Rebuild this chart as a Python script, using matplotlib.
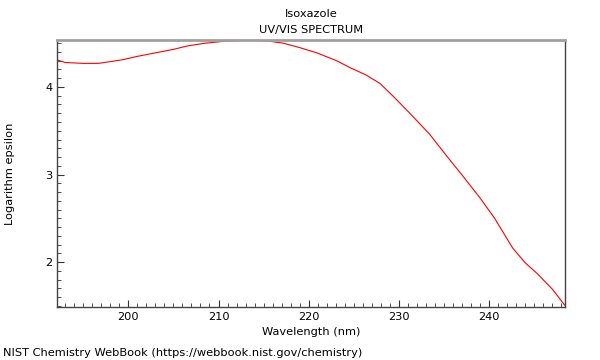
import matplotlib
matplotlib.use("Agg")
import matplotlib.pyplot as plt
from matplotlib.ticker import MultipleLocator

# spectrum
wavelength = [192.1, 193.0, 195.0, 196.7, 198.0, 199.3, 201.0, 203.0, 205.0, 206.6,
              208.5, 210.4, 212.5, 214.1, 215.5, 217.2, 219.0, 220.9, 223.1, 224.6,
              226.3, 227.9, 229.5, 231.2, 233.4, 235.3, 237.1, 239.0, 240.6,
              242.6, 244.0, 245.3, 247.0, 248.5]
log_eps = [4.31, 4.28, 4.27, 4.27, 4.29, 4.31, 4.35, 4.39, 4.43, 4.47,
           4.50, 4.52, 4.535, 4.535, 4.525, 4.50, 4.45, 4.39, 4.30, 4.22,
           4.14, 4.04, 3.88, 3.70, 3.46, 3.21, 2.98, 2.73, 2.50,
           2.16, 1.99, 1.87, 1.69, 1.49]

FS = 8.2

fig = plt.figure(figsize=(6, 3.6), dpi=100)
ax = fig.add_axes([57 / 600, 1 - 307 / 360, 508 / 600, 267 / 360])

ax.plot(wavelength, log_eps, color="red", linewidth=0.8)

ax.set_xlim(192.1, 248.4)
ax.set_ylim(1.486, 4.537)
ax.xaxis.set_major_locator(MultipleLocator(10))
ax.xaxis.set_minor_locator(MultipleLocator(1))
ax.yaxis.set_major_locator(MultipleLocator(1))
ax.yaxis.set_minor_locator(MultipleLocator(0.1))
ax.tick_params(which="both", direction="in", labelsize=FS, color="#333333")
ax.tick_params(which="major", length=5)
ax.tick_params(which="minor", length=3)

ax.spines["top"].set_color("#a0a0a0")
ax.spines["top"].set_linewidth(2)
for s in ["left", "bottom", "right"]:
    ax.spines[s].set_color("#444444")
    ax.spines[s].set_linewidth(1)

ax.set_xlabel("Wavelength (nm)", fontsize=FS, labelpad=4)
ax.set_ylabel("Logarithm epsilon", fontsize=FS)
ax.yaxis.set_label_coords(-0.082, 0.5)
ax.set_title("Isoxazole\nUV/VIS SPECTRUM", fontsize=FS, pad=5, linespacing=1.75)

fig.text(3 / 600, 1 - 353 / 360, "NIST Chemistry WebBook (https://webbook.nist.gov/chemistry)",
         fontsize=FS, va="center", ha="left")

fig.savefig("out.png", dpi=100)
